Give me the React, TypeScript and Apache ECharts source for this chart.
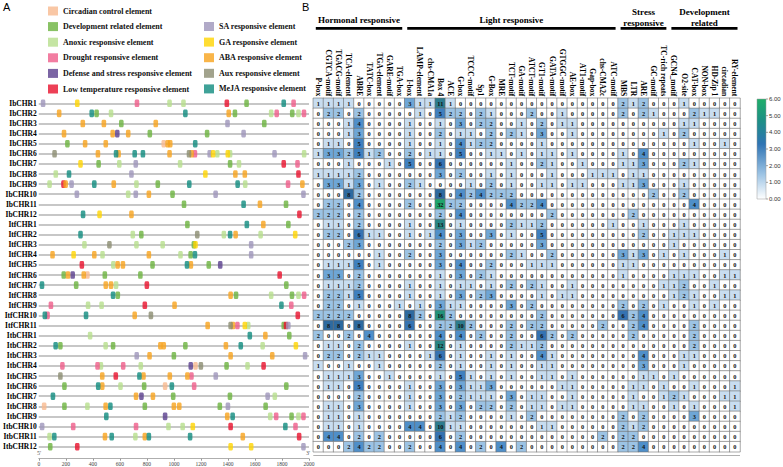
import React, { useEffect, useRef } from "react";
import * as echarts from "echarts";

// ---------------- data ----------------
const genes = [
  "IbCHR1", "IbCHR2", "IbCHR3", "IbCHR4", "IbCHR5", "IbCHR6", "IbCHR7", "IbCHR8", "IbCHR9", "IbCHR10", "IbCHR11", "IbCHR12",
  "ItfCHR1", "ItfCHR2", "ItfCHR3", "ItfCHR4", "ItfCHR5", "ItfCHR6", "ItfCHR7", "ItfCHR8", "ItfCHR9", "ItfCHR10", "ItfCHR11",
  "ItbCHR1", "ItbCHR2", "ItbCHR3", "ItbCHR4", "ItbCHR5", "ItbCHR6", "ItbCHR7", "ItbCHR8", "ItbCHR9", "ItbCHR10", "ItbCHR11", "ItbCHR12",
];

const elementKeys = ["circ", "dev", "anox", "drought", "defense", "lowT", "SA", "GA", "ABA", "Aux", "MeJA"];
const elementNames = [
  "Circadian control element", "Development related element", "Anoxic responsive element",
  "Drought responsive element", "Defense and stress responsive element", "Low temperature responsive element",
  "SA responsive element", "GA responsive element", "ABA responsive element", "Aux responsive element", "MeJA responsive element",
];
const elementColors = ["#f8b98f", "#6cb33e", "#b6df8c", "#ef5d8a", "#5a3f8d", "#e8102c", "#9d95ba", "#ffd400", "#f7a21b", "#8b8c70", "#0f8b7e"];

type Site = [string, number];
const ibCHR1: Site[] = [["SA", 32], ["GA", 285], ["drought", 727], ["anox", 968], ["anox", 1071], ["lowT", 1392], ["dev", 1538], ["MeJA", 1813], ["drought", 1886]];
const ibCHR2: Site[] = [["ABA", 151], ["MeJA", 392], ["dev", 428], ["anox", 535], ["MeJA", 1085], ["ABA", 1406], ["dev", 1452], ["anox", 1720], ["drought", 1761], ["dev", 1876], ["anox", 1922], ["drought", 1963]];
const ibCHR3: Site[] = [["ABA", 326], ["ABA", 482], ["dev", 611], ["ABA", 866], ["SA", 1397], ["dev", 1669]];
const ibCHR4: Site[] = [["ABA", 187], ["ABA", 547], ["defense", 581], ["ABA", 662], ["dev", 822], ["dev", 1246], ["SA", 1516]];
const ibCHR5: Site[] = [["dev", 212], ["ABA", 343], ["ABA", 496], ["circ", 925], ["ABA", 954], ["ABA", 973], ["MeJA", 1158]];
const ibCHR6: Site[] = [["Aux", 117], ["ABA", 438], ["MeJA", 572], ["ABA", 591], ["MeJA", 710], ["MeJA", 771], ["ABA", 968], ["Aux", 1112], ["ABA", 1131], ["drought", 1156], ["SA", 1265], ["GA", 1290], ["anox", 1321], ["GA", 1399], ["anox", 1416], ["SA", 1745], ["anox", 1964]];
const ibCHR7: Site[] = [["GA", 309], ["dev", 443], ["anox", 596], ["SA", 718], ["anox", 1046], ["dev", 1416], ["anox", 1482], ["lowT", 1813], ["drought", 1915]];
const ibCHR8: Site[] = [["anox", 126], ["MeJA", 224], ["SA", 686], ["GA", 1233], ["ABA", 1455], ["ABA", 1525], ["lowT", 1922]];
const ibCHR9: Site[] = [["anox", 80], ["lowT", 183], ["ABA", 199], ["SA", 243], ["MeJA", 411], ["ABA", 555], ["anox", 723], ["dev", 881], ["MeJA", 1114], ["MeJA", 1472], ["anox", 1528], ["drought", 1845], ["ABA", 1951]];
const ibCHR10: Site[] = [["SA", 282], ["anox", 662], ["SA", 718], ["ABA", 815], ["dev", 990], ["SA", 1309], ["SA", 1959]];
const ibCHR11: Site[] = [["dev", 1075], ["MeJA", 1516], ["ABA", 1637], ["dev", 1830]];
const ibCHR12: Site[] = [["MeJA", 328], ["GA", 450], ["ABA", 686], ["lowT", 1929]];
const itfCHR1: Site[] = [["dev", 1100], ["MeJA", 1540], ["ABA", 1662], ["dev", 1847]];
const itfCHR2: Site[] = [["MeJA", 309], ["anox", 696], ["dev", 759], ["Aux", 1173], ["anox", 1370], ["MeJA", 1416], ["ABA", 1457], ["anox", 1642], ["GA", 1898]];
const itfCHR3: Site[] = [["anox", 338], ["Aux", 523], ["anox", 723], ["anox", 917], ["dev", 1148], ["GA", 1160], ["SA", 1572]];
const itfCHR4: Site[] = [["ABA", 102], ["GA", 258], ["ABA", 411], ["anox", 472], ["ABA", 815], ["anox", 1049], ["dev", 1124], ["MeJA", 1156], ["SA", 1572]];
const itfCHR5: Site[] = [["lowT", 319], ["anox", 552], ["ABA", 584], ["ABA", 623], ["dev", 842], ["MeJA", 1097], ["ABA", 1126], ["dev", 1258], ["defense", 1343]];
const itfCHR6: Site[] = [["dev", 185], ["ABA", 216], ["defense", 251], ["ABA", 333], ["circ", 360], ["dev", 489], ["dev", 752], ["lowT", 1783]];
const itfCHR7: Site[] = [["MeJA", 24], ["dev", 277], ["ABA", 496], ["ABA", 535], ["anox", 572], ["lowT", 800], ["dev", 1832]];
const itfCHR8: Site[] = [["MeJA", 550], ["dev", 585], ["ABA", 1420], ["dev", 1460], ["anox", 1720], ["dev", 1874], ["anox", 1922], ["drought", 1964]];
const itfCHR9: Site[] = [["drought", 90], ["anox", 365], ["anox", 465], ["lowT", 785], ["ABA", 1005], ["MeJA", 1796], ["drought", 1869]];
const itfCHR10: Site[] = [["MeJA", 45], ["drought", 65], ["MeJA", 350], ["ABA", 710], ["Aux", 830], ["lowT", 1917]];
const itfCHR11: Site[] = [["ABA", 1250], ["Aux", 1420], ["ABA", 1437], ["drought", 1470], ["GA", 1525], ["anox", 1550], ["dev", 1813], ["lowT", 1830], ["SA", 1847]];
const itbCHR1: Site[] = [["anox", 380], ["MeJA", 1562], ["ABA", 1677], ["dev", 1854]];
const itbCHR2: Site[] = [["MeJA", 125], ["dev", 160], ["anox", 495], ["dev", 550], ["ABA", 900], ["ABA", 925], ["dev", 1085], ["ABA", 1385], ["MeJA", 1495], ["anox", 1657], ["GA", 1903]];
const itbCHR3: Site[] = [["SA", 725], ["ABA", 820], ["dev", 1000], ["ABA", 1420], ["ABA", 1728], ["SA", 1971]];
const itbCHR4: Site[] = [["drought", 175], ["drought", 435], ["anox", 460], ["drought", 625], ["anox", 755], ["defense", 1125], ["circ", 1160], ["Aux", 1200], ["dev", 1390], ["anox", 1545], ["lowT", 1664]];
const itbCHR5: Site[] = [["Aux", 160], ["ABA", 470], ["lowT", 570], ["MeJA", 745], ["ABA", 775], ["ABA", 970], ["ABA", 1100], ["drought", 1130], ["SA", 1310]];
const itbCHR6: Site[] = [["dev", 190], ["MeJA", 440], ["ABA", 470], ["anox", 605], ["dev", 780], ["circ", 935], ["MeJA", 985], ["drought", 1150], ["dev", 1832]];
const itbCHR7: Site[] = [["MeJA", 105], ["ABA", 720], ["defense", 760], ["ABA", 845], ["dev", 995], ["dev", 1415], ["SA", 1694], ["anox", 1747]];
const itbCHR8: Site[] = [["circ", 40], ["dev", 190], ["anox", 360], ["ABA", 495], ["MeJA", 530], ["dev", 785], ["ABA", 1000], ["ABA", 1040], ["dev", 1340], ["SA", 1400], ["dev", 1679]];
const itbCHR9: Site[] = [["MeJA", 500], ["defense", 935], ["ABA", 1395], ["MeJA", 1435], ["anox", 1713], ["drought", 1757], ["dev", 1871], ["anox", 1922], ["drought", 1959]];
const itbCHR10: Site[] = [["SA", 25], ["drought", 255], ["drought", 720], ["anox", 960], ["anox", 1065], ["GA", 1140], ["lowT", 1420], ["MeJA", 1825], ["drought", 1900]];
const itbCHR11: Site[] = [["anox", 80], ["MeJA", 115], ["ABA", 490], ["MeJA", 540], ["anox", 715], ["ABA", 785], ["MeJA", 815], ["MeJA", 1120], ["ABA", 1510], ["lowT", 1927]];
const itbCHR12: Site[] = [["dev", 85], ["lowT", 285], ["GA", 1420], ["GA", 1572], ["SA", 1959]];

const geneSites: Site[][] = [
  ibCHR1, ibCHR2, ibCHR3, ibCHR4, ibCHR5, ibCHR6, ibCHR7, ibCHR8, ibCHR9, ibCHR10, ibCHR11, ibCHR12,
  itfCHR1, itfCHR2, itfCHR3, itfCHR4, itfCHR5, itfCHR6, itfCHR7, itfCHR8, itfCHR9, itfCHR10, itfCHR11,
  itbCHR1, itbCHR2, itbCHR3, itbCHR4, itbCHR5, itbCHR6, itbCHR7, itbCHR8, itbCHR9, itbCHR10, itbCHR11, itbCHR12,
];

const axisTicksBp = [0, 200, 400, 600, 800, 1000, 1200, 1400, 1600, 1800, 2000];

const motifs = [
  "P-box", "CGTCA-motif", "TGACG-motif", "TCA-element", "ABRE", "TATC-box", "TGA-element", "GARE-motif", "TGA-box",
  "I-box", "LAMP-element", "chs-CMA1a", "Box 4", "ACE", "G-box", "TCCC-motif", "Sp1", "G-Box", "MRE", "TCT-motif",
  "GA-motif", "ATCT-motif", "GT1-motif", "GATA-motif", "GTGGC-motif", "AE-box", "AT1-motif", "Gap-box", "chs-CMA2c", "ATC-motif",
  "MBS", "LTR", "ARE", "GC-motif", "TC-rich repeats",
  "GCN4_motif", "O2-site", "CAT-box", "NON-box", "HD-Zip 1", "circadian", "RY-element",
];
const groupNames = ["Hormonal responsive", "Light responsive", "Stress\nresponsive", "Development\nrelated"];
const groupSizes = [9, 21, 5, 7];

const ibCounts = [
  [1,1,1,1,0,0,0,0,0,3,1,1,11,1,0,0,0,0,0,0,0,0,0,0,0,0,0,0,0,0,2,1,2,0,0,0,1,0,0,0,0,0],
  [0,2,2,0,2,0,0,0,0,0,1,0,5,2,2,0,2,1,0,0,0,2,0,0,1,0,0,0,0,0,2,0,2,1,0,0,0,2,1,1,0,0],
  [0,0,0,1,4,0,0,0,0,1,0,0,1,0,3,0,2,2,0,0,1,0,2,0,1,1,0,0,0,0,0,0,0,0,0,0,1,1,0,0,0,0],
  [0,0,0,1,3,0,0,0,0,1,0,0,2,0,1,1,0,2,0,2,1,0,3,0,0,1,0,0,0,0,0,0,0,0,1,0,2,0,0,0,0,0],
  [0,1,1,0,5,0,0,0,0,1,0,0,1,0,4,1,2,2,0,0,0,0,1,0,0,0,0,0,0,0,0,0,0,0,0,0,0,1,0,0,1,0],
  [1,3,3,2,5,1,2,0,0,2,0,1,1,0,5,0,0,1,1,0,1,0,1,1,0,1,0,0,0,0,1,0,4,0,0,0,0,0,0,0,0,0],
  [0,0,0,1,0,0,0,1,0,5,0,0,6,0,0,0,0,0,0,1,0,0,2,1,0,0,1,0,0,0,1,1,3,0,0,0,2,1,0,0,0,0],
  [1,1,1,1,2,0,0,0,0,0,0,0,3,0,2,0,0,1,0,1,0,0,0,1,0,0,0,1,1,1,0,1,1,0,0,0,0,0,0,0,0,0],
  [0,3,3,1,3,0,1,0,0,2,1,0,0,0,0,1,0,2,0,1,0,0,1,1,0,1,1,0,0,0,1,1,3,0,0,0,1,0,0,0,0,0],
  [0,0,0,8,2,0,0,0,0,0,0,0,8,0,4,2,4,2,2,2,0,0,0,0,0,0,0,0,0,0,0,0,0,2,0,0,2,0,0,0,0,0],
  [0,2,2,0,4,0,0,0,0,2,0,0,32,2,2,0,0,0,0,4,2,2,4,0,0,0,0,0,0,0,0,0,0,0,0,0,0,4,0,0,0,0],
  [2,2,2,0,2,0,0,0,0,0,0,0,2,0,4,0,0,0,0,0,0,0,0,2,0,0,0,0,0,0,0,2,0,0,0,0,0,0,0,0,0,0],
];
const itfCounts = [
  [0,1,1,0,2,0,0,0,0,1,0,0,13,0,1,0,0,0,0,2,1,1,2,0,0,0,0,0,0,1,0,0,1,0,0,0,1,0,0,0,0,0],
  [0,2,2,0,6,1,1,0,0,1,0,1,4,0,3,0,0,3,0,1,0,0,5,0,0,0,0,0,0,0,0,0,2,0,0,1,1,1,0,0,0,0],
  [0,0,0,2,3,0,0,0,0,0,0,0,2,0,3,1,2,0,0,0,0,0,3,0,0,0,0,0,0,0,0,0,0,0,0,1,0,0,0,0,0,0],
  [0,0,0,0,0,0,1,0,0,2,0,0,3,0,0,0,0,0,0,2,1,0,0,2,0,0,0,0,0,0,3,1,3,0,1,0,1,0,0,0,1,0],
  [0,1,1,1,5,0,1,0,0,0,0,0,3,0,4,0,0,2,0,0,0,1,1,1,0,0,0,0,0,0,1,1,0,0,0,0,0,0,0,0,0,0],
  [0,3,3,0,2,0,0,0,0,0,0,0,1,0,3,0,2,1,0,0,0,0,0,0,0,0,0,0,0,0,1,0,0,0,0,1,1,1,0,0,1,1],
  [0,1,1,1,2,0,0,0,0,1,0,0,1,0,1,1,0,1,0,2,0,2,1,0,0,1,0,0,0,0,0,0,0,0,1,1,2,0,0,1,0,0],
  [0,2,2,1,5,0,0,0,0,1,0,0,1,0,3,0,2,3,0,0,0,0,1,0,1,1,0,0,0,0,0,0,0,0,0,1,2,1,0,0,1,1],
  [0,2,2,0,1,0,0,0,1,0,1,0,3,1,1,0,0,0,0,3,0,2,0,0,0,0,0,0,0,0,2,0,2,0,1,0,0,1,0,1,0,0],
  [2,2,2,2,0,0,0,0,0,8,2,0,16,2,0,0,0,0,0,0,0,0,2,0,0,0,0,0,0,0,6,2,4,0,0,0,0,0,0,0,0,0],
  [0,8,8,0,8,0,0,0,0,6,0,0,2,2,10,2,0,0,0,2,0,2,2,0,0,0,0,0,2,0,0,2,4,0,0,0,0,2,0,0,0,0],
];
const itbCounts = [
  [2,0,0,2,0,4,0,0,0,0,0,0,4,0,4,0,2,0,0,2,0,0,6,2,0,2,0,0,0,0,0,2,0,0,0,0,0,2,0,0,0,0],
  [0,1,1,0,2,0,0,0,0,1,0,0,12,0,1,0,0,0,0,2,1,1,2,0,0,0,0,0,0,0,0,0,0,0,0,0,0,2,0,0,0,0],
  [0,2,2,0,2,1,1,0,0,0,0,1,6,0,1,0,0,1,0,1,0,0,4,1,0,0,0,0,0,0,0,0,4,0,0,0,1,1,0,0,0,0],
  [1,0,0,1,0,0,1,0,0,0,0,0,2,0,1,0,0,1,0,1,0,0,1,1,0,0,0,0,0,0,0,0,3,0,0,0,1,0,0,0,0,0],
  [0,1,1,1,3,0,0,1,0,0,0,0,1,0,5,1,0,1,0,1,0,0,1,1,0,1,0,0,0,0,0,0,1,1,0,1,0,0,0,0,0,0],
  [0,1,1,0,5,0,0,0,0,1,0,0,3,0,3,1,1,3,0,0,0,0,0,0,1,1,0,0,0,0,0,1,1,0,1,0,0,1,0,0,0,1],
  [0,0,0,0,2,0,0,0,0,1,0,0,3,0,2,1,1,1,0,3,0,1,1,0,0,1,0,0,0,0,0,1,0,0,1,2,1,0,0,0,1,1],
  [0,1,1,0,3,0,0,0,0,1,0,0,3,0,3,0,2,2,0,2,0,1,1,0,1,1,0,0,0,0,0,1,1,0,0,1,0,1,0,0,0,1],
  [0,1,1,0,1,0,0,0,0,0,0,0,2,1,2,0,0,0,0,1,0,2,0,0,0,0,0,0,0,0,2,0,2,0,0,0,0,3,0,0,0,0],
  [0,1,1,0,1,0,0,0,0,4,4,0,10,1,1,0,0,0,0,0,0,0,1,1,0,0,0,0,0,0,2,1,2,0,0,0,0,0,0,0,0,0],
  [0,4,4,0,2,0,2,0,0,0,0,0,6,0,2,0,0,0,0,0,0,0,0,0,0,0,0,0,2,0,2,2,0,0,0,0,0,0,0,0,0,0],
  [0,0,0,2,4,2,2,0,0,2,0,0,4,0,4,0,2,0,4,0,2,0,0,0,0,0,0,0,0,0,2,2,4,0,0,0,0,0,0,0,0,0],
];
const colorbarTicks = [0, 1, 2, 3, 4, 5, 6];

// ---------------- layout / style ----------------
const SERIF = "'Liberation Serif', 'Times New Roman', serif";
const SANS = "'Liberation Sans', Arial, sans-serif";
const A_LEFT = 35;
const A_RIGHT = 309;
const ROW0 = 103.3;
const ROW_STEP = 10.1;
const HM_LEFT = 313.3;
const HM_RIGHT = 740;

const cellStops: [number, string][] = [
  [0, "#ffffff"], [1, "#c8ddf0"], [2, "#9cc3e4"], [3, "#6ea6d6"], [4, "#4f8fc9"], [5, "#3f80bf"],
  [6, "#3573b2"], [8, "#2e6a9f"], [10, "#2c7c8e"], [12, "#288685"], [16, "#22937a"], [30, "#1ea56c"],
];

function buildOption(): any {
  const allCounts = [...ibCounts, ...itfCounts, ...itbCounts];
  const heatData: number[][] = [];
  allCounts.forEach((row, r) => row.forEach((v, c) => heatData.push([c, r, v])));

  const scatterSeries = elementKeys.map((key, k) => ({
    type: "scatter",
    name: elementNames[k],
    xAxisIndex: 0,
    yAxisIndex: 0,
    symbol: "roundRect",
    symbolSize: [4.6, 7.6],
    itemStyle: { color: elementColors[k] },
    z: 3,
    data: geneSites.flatMap((sites, gi) => sites.filter((s) => s[0] === key).map((s) => [s[1], gi])),
  }));

  const pieces = cellStops.map(([t, color], i) => {
    const next = cellStops[i + 1];
    return next ? { gte: t, lt: next[0], color } : { gte: t, color };
  });

  const cellW = (HM_RIGHT - HM_LEFT) / motifs.length;
  const graphics: any[] = [
    { type: "text", left: 3, top: 1, style: { text: "A", font: `11px ${SANS}`, fill: "#000" } },
    { type: "text", left: 302, top: 1, style: { text: "B", font: `11px ${SANS}`, fill: "#000" } },
    { type: "text", x: 37, y: 453, style: { text: "5'", font: `6px ${SERIF}`, fill: "#555", textAlign: "left", textVerticalAlign: "middle" } },
    { type: "text", x: 306, y: 453, style: { text: "3'", font: `6px ${SERIF}`, fill: "#555", textAlign: "left", textVerticalAlign: "middle" } },
    { type: "line", shape: { x1: HM_LEFT, y1: 455.5, x2: HM_RIGHT, y2: 455.5 }, style: { stroke: "#b0b0b0", lineWidth: 1 } },
  ];
  let start = 0;
  groupNames.forEach((g, k) => {
    const x0 = HM_LEFT + start * cellW;
    const x1 = x0 + groupSizes[k] * cellW;
    start += groupSizes[k];
    graphics.push({ type: "rect", shape: { x: x0 + 2.5, y: 27, width: x1 - x0 - 5, height: 2.7 }, style: { fill: "#000" } });
    const two = g.includes("\n");
    graphics.push({
      type: "text",
      x: (x0 + x1) / 2,
      y: two ? 28 : 25,
      style: { text: g, font: `bold 9px ${SERIF}`, fill: "#000", textAlign: "center", textVerticalAlign: "bottom", lineHeight: 11 },
    });
  });
  // colour bar
  const CB_X = 757, CB_TOP = 99, CB_H = 100, CB_W = 9;
  graphics.push({
    type: "rect",
    shape: { x: CB_X, y: CB_TOP, width: CB_W, height: CB_H },
    style: {
      fill: new echarts.graphic.LinearGradient(0, 0, 0, 1, [
        { offset: 0, color: "#1fae6a" },
        { offset: 0.22, color: "#1e8f86" },
        { offset: 0.45, color: "#2f74b4" },
        { offset: 0.75, color: "#9cc3e4" },
        { offset: 1, color: "#ffffff" },
      ]),
      stroke: "#999",
      lineWidth: 0.5,
    },
  });
  colorbarTicks.forEach((t) => {
    const y = CB_TOP + CB_H - (t / 6) * CB_H;
    graphics.push({ type: "line", shape: { x1: CB_X + CB_W, y1: y, x2: CB_X + CB_W + 2, y2: y }, style: { stroke: "#666", lineWidth: 0.6 } });
    graphics.push({ type: "text", x: CB_X + CB_W + 3, y, style: { text: t.toFixed(2), font: `6px ${SANS}`, fill: "#333", textVerticalAlign: "middle" } });
  });

  const legendText = { fontFamily: SERIF, fontWeight: "bold", fontSize: 8, color: "#111", lineHeight: 9 };

  return {
    animation: false,
    backgroundColor: "#fff",
    legend: [
      {
        orient: "vertical", left: 43, top: 1.5, itemWidth: 10, itemHeight: 9, itemGap: 6.6, icon: "rect", selectedMode: false,
        textStyle: legendText, data: elementNames.slice(0, 6),
      },
      {
        orient: "vertical", left: 199, top: 17, itemWidth: 10, itemHeight: 9, itemGap: 6.6, icon: "rect", selectedMode: false,
        textStyle: legendText, data: elementNames.slice(6),
      },
    ],
    visualMap: {
      type: "piecewise",
      show: false,
      seriesIndex: elementKeys.length,
      dimension: 2,
      pieces,
    },
    grid: [
      { left: A_LEFT, top: ROW0, width: A_RIGHT - A_LEFT, height: ROW_STEP * (genes.length - 1) },
      { left: HM_LEFT, top: ROW0 - ROW_STEP / 2, width: HM_RIGHT - HM_LEFT, height: ROW_STEP * genes.length },
    ],
    xAxis: [
      {
        gridIndex: 0, type: "value", min: axisTicksBp[0], max: axisTicksBp[axisTicksBp.length - 1], interval: 200,
        position: "bottom", offset: 12,
        axisLine: { show: true, lineStyle: { color: "#999", width: 0.8 } },
        axisTick: { show: true, length: 2, lineStyle: { color: "#999" } },
        axisLabel: { fontSize: 5.5, color: "#444", margin: 2, fontFamily: SERIF, formatter: (v: number) => String(v) },
        splitLine: { show: false },
      },
      {
        gridIndex: 1, type: "category", data: motifs, position: "top",
        axisLine: { show: false }, axisTick: { show: false }, splitLine: { show: false },
        axisLabel: { rotate: 90, interval: 0, fontSize: 7.5, fontWeight: "bold", fontFamily: SERIF, color: "#000", margin: 2 },
      },
    ],
    yAxis: [
      {
        gridIndex: 0, type: "category", data: genes, inverse: true, boundaryGap: false,
        axisLine: { show: false }, axisTick: { show: false },
        axisLabel: { interval: 0, fontSize: 7.5, fontWeight: "bold", fontFamily: SERIF, color: "#000", margin: 2 },
        splitLine: { show: true, interval: 0, lineStyle: { color: "#b5b5b5", width: 1.5 } },
      },
      { gridIndex: 1, type: "category", data: genes, inverse: true, show: false },
    ],
    graphic: graphics,
    series: [
      ...scatterSeries,
      {
        type: "heatmap",
        xAxisIndex: 1,
        yAxisIndex: 1,
        data: heatData,
        itemStyle: { borderColor: "#6e6e6e", borderWidth: 0.6 },
        label: {
          show: true, fontSize: 6.3, fontWeight: "bold", fontFamily: SERIF, color: "#111",
          formatter: (p: any) => String(p.value[2]),
        },
        emphasis: { disabled: true },
      },
    ],
  };
}

export default function App() {
  const ref = useRef<HTMLDivElement>(null);
  useEffect(() => {
    const chart = echarts.init(ref.current!, undefined, { renderer: "svg" });
    chart.setOption(buildOption());
    return () => chart.dispose();
  }, []);
  return (
    <div
      ref={ref}
      style={{ position: "fixed", left: 0, top: 0, width: 783, height: 467, background: "#fff" }}
    />
  );
}
